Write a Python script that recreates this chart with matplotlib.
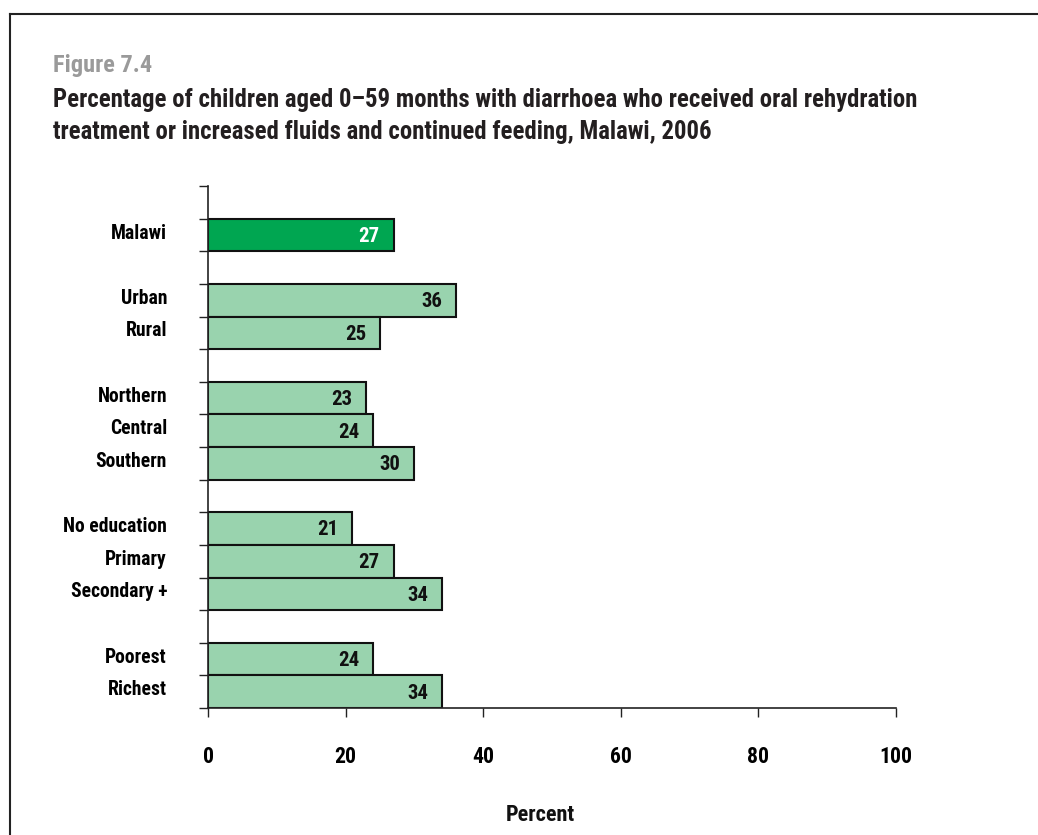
import matplotlib
matplotlib.use("Agg")
import matplotlib.pyplot as plt
from matplotlib.font_manager import fontManager, FontProperties
from matplotlib.lines import Line2D

# Data
categories = ["Malawi", "Urban", "Rural", "Northern", "Central", "Southern",
              "No education", "Primary", "Secondary +", "Poorest", "Richest"]
values = [27, 36, 25, 23, 24, 30, 21, 27, 34, 24, 34]
# slot index of each bar (empty slots separate the groups)
slots = [1, 3, 4, 6, 7, 8, 10, 11, 12, 14, 15]
n_slots = 16
x_ticks = [0, 20, 40, 60, 80, 100]

title_line1 = "Percentage of children aged 0\u201359 months with diarrhoea who received oral rehydration"
title_line2 = "treatment or increased fluids and continued feeding, Malawi, 2006"


def _is_bold(f):
    w = f.weight
    if isinstance(w, str):
        return w.lower() in ("bold", "semibold", "demibold", "demi", "heavy", "extra bold")
    return w >= 600


def _is_narrow(f):
    st = f.stretch
    if isinstance(st, str):
        narrow = "condensed" in st.lower()
    else:
        narrow = st < 500
    return narrow or "Condensed" in f.name or "Narrow" in f.name


def pick_font():
    """Prefer a bold condensed face; otherwise a compact bold sans."""
    cands = [f for f in fontManager.ttflist if _is_bold(f) and _is_narrow(f)
             and f.style == "normal"]
    order = ["Roboto Condensed", "Open Sans Condensed", "Noto Sans", "DejaVu Sans",
             "Liberation Sans Narrow", "Arial Narrow", "Open Sans", "Roboto"]

    def rank(f):
        for i, n in enumerate(order):
            if f.name.startswith(n):
                return i
        return len(order)

    if cands:
        cands.sort(key=rank)
        return FontProperties(fname=cands[0].fname)
    for fam in ["Roboto", "Lato", "Open Sans", "Liberation Sans", "DejaVu Sans"]:
        if any(f.name == fam for f in fontManager.ttflist):
            return FontProperties(family=fam, weight="bold")
    return FontProperties(weight="bold")


base_font = pick_font()

fig = plt.figure(figsize=(10.38, 8.35), dpi=100)
W, H = 1038, 835
renderer = fig.canvas.get_renderer()


def fitted(text, width_px, max_size):
    """Font size (pt) at which `text` spans about width_px pixels."""
    fp = base_font.copy()
    fp.set_size(20)
    t = fig.text(0, 0, text, fontproperties=fp)
    w = t.get_window_extent(renderer).width
    t.remove()
    return min(max_size, 20 * width_px / w)


def fp_of(size):
    fp = base_font.copy()
    fp.set_size(size)
    return fp


title_size = fitted(title_line1, 887, 17.8)
fig_size = fitted("Figure 7.4", 99, 17.8)
cat_size = fitted("No education", 104, 14.5)
val_size = fitted("36", 21, 15.5)
tick_size = fitted("100", 33, 16)
lab_size = fitted("Percent", 69, 16)

# frame around the figure panel
fig.add_artist(Line2D([10 / W, 1.0], [1 - 14 / H, 1 - 14 / H], color="#222222", lw=1.5,
                      transform=fig.transFigure))
fig.add_artist(Line2D([10 / W, 10 / W], [0.0, 1 - 14 / H], color="#222222", lw=1.5,
                      transform=fig.transFigure))

fig.text(53 / W, 1 - 72 / H, "Figure 7.4", color="#9a9a9a", fontproperties=fp_of(fig_size),
         va="baseline", ha="left")
fig.text(53 / W, 1 - 107 / H, title_line1, color="#231f20", fontproperties=fp_of(title_size),
         va="baseline", ha="left")
fig.text(53 / W, 1 - 139 / H, title_line2, color="#231f20", fontproperties=fp_of(title_size),
         va="baseline", ha="left")

ax = fig.add_axes([208 / W, 1 - 708 / H, (896 - 208) / W, (708 - 186) / H])

colors = ["#00a651"] + ["#99d3ae"] * (len(values) - 1)
text_colors = ["white"] + ["#111111"] * (len(values) - 1)
ax.barh(slots, values, height=1.0, color=colors, edgecolor="#111111", linewidth=1.5,
        zorder=2)

for s, v, tc in zip(slots, values, text_colors):
    ax.annotate(f"{v}", xy=(v, s), xytext=(-10, -1), textcoords="offset points",
                ha="right", va="center", color=tc, fontproperties=fp_of(val_size), zorder=3)

ax.set_xlim(0, 100)
ax.set_ylim(n_slots - 0.5, -0.5)

ax.set_xticks(x_ticks)
ax.set_xticklabels([str(t) for t in x_ticks])
for lbl in ax.get_xticklabels():
    lbl.set_fontproperties(fp_of(tick_size))
ax.tick_params(axis="x", direction="out", length=6.5, width=1.0, color="#222222", pad=21)

ax.set_yticks([i - 0.5 for i in range(n_slots + 1)])
ax.set_yticklabels([])
ax.set_yticks([s - 0.12 for s in slots], minor=True)
ax.set_yticklabels(categories, minor=True)
for lbl in ax.get_yticklabels(minor=True):
    lbl.set_fontproperties(fp_of(cat_size))
ax.tick_params(axis="y", which="major", direction="out", length=6.5, width=1.0, color="#222222")
ax.tick_params(axis="y", which="minor", length=0, pad=29.5)

for side in ("top", "right"):
    ax.spines[side].set_visible(False)
for side in ("left", "bottom"):
    ax.spines[side].set_linewidth(1.2)
    ax.spines[side].set_color("#222222")

fig.text(540 / W, 1 - 815 / H, "Percent", ha="center", va="center",
         fontproperties=fp_of(lab_size), color="#111111")

fig.savefig("out.png", dpi=100)
